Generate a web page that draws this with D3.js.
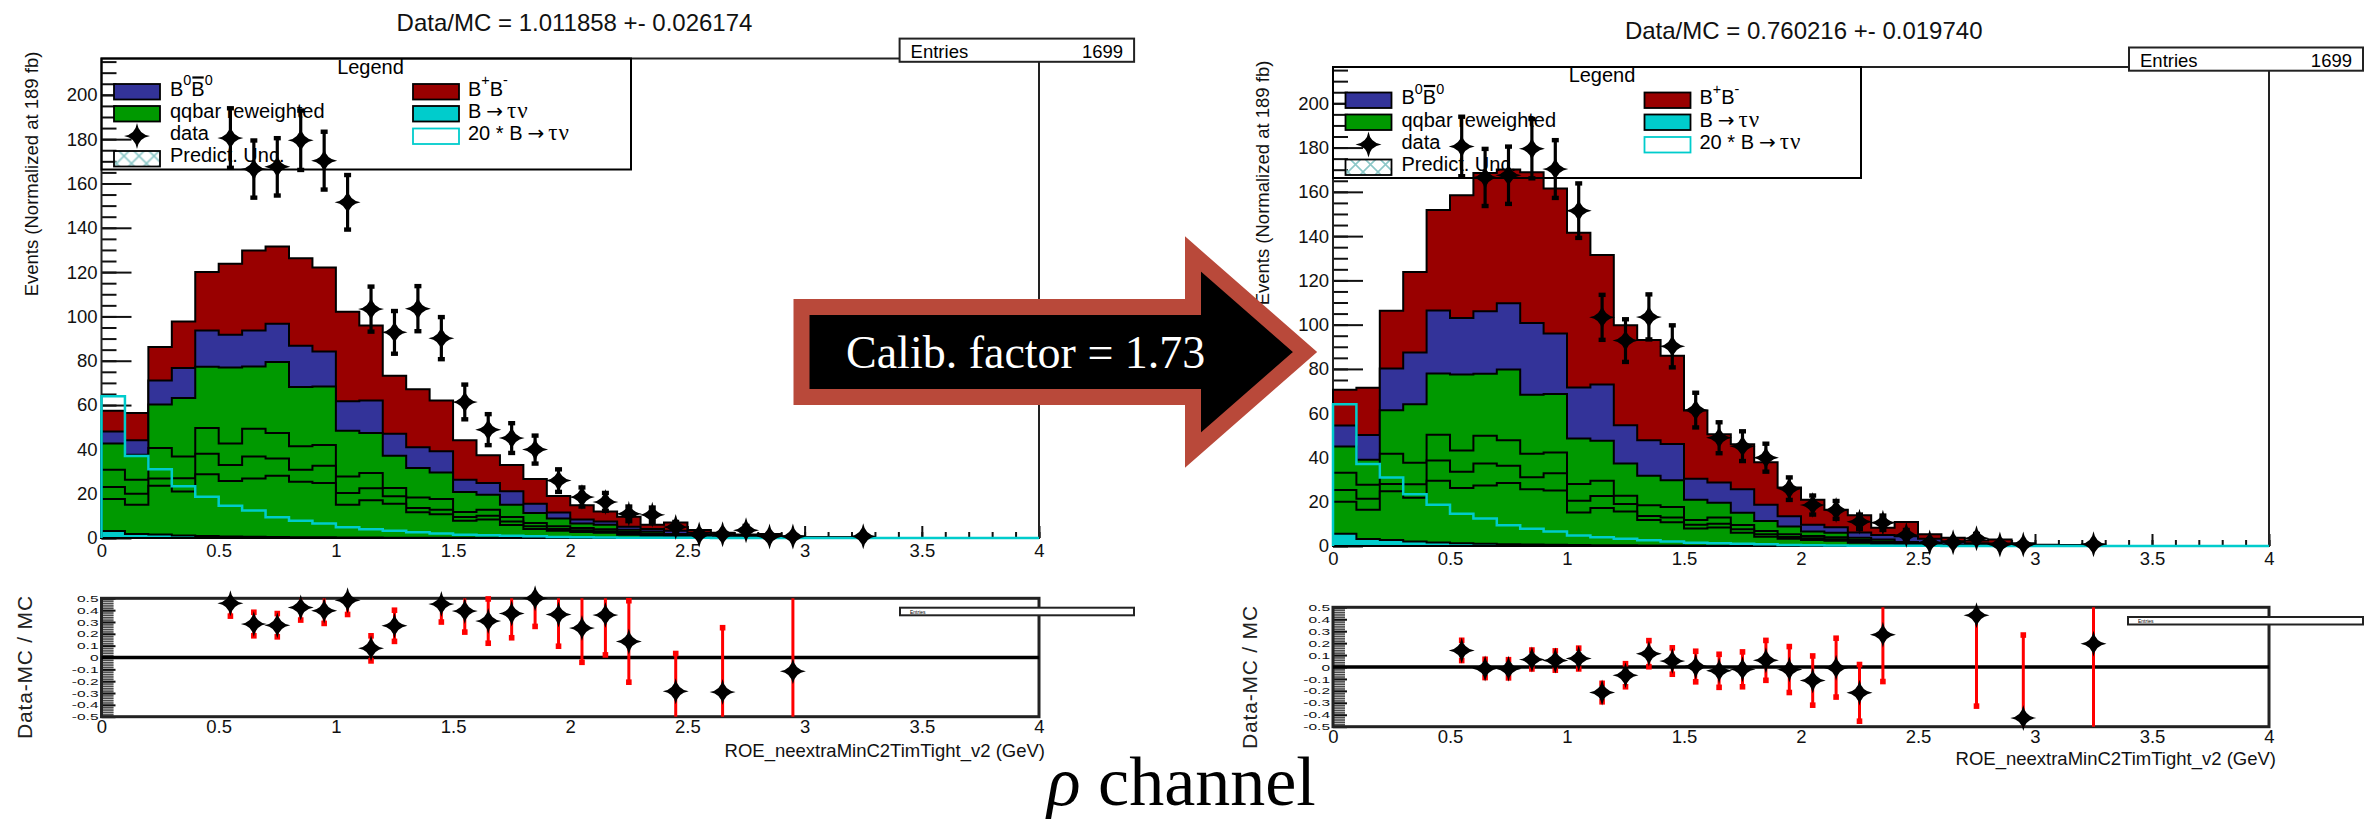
<!DOCTYPE html>
<html>
<head>
<meta charset="utf-8">
<script src="https://cdn.jsdelivr.net/npm/d3@7"></script>
<style>
  html, body { margin: 0; padding: 0; background: #fff; }
  svg { display: block; font-family: "Liberation Sans", Arial, Helvetica, sans-serif; }
</style>
</head>
<body>
<svg id="c" width="2374" height="819"></svg>
<script>
// ---------------- histogram content: 40 bins of 0.1 GeV on [0, 4] ----------------
const binLow = d3.range(40).map(i => +(i * 0.1).toFixed(1));

// B -> tau nu signal (unscaled)
const sigTauNu = [3.2,1.85,1.55,1.17,0.93,0.73,0.62,0.47,0.39,0.33,0.24,0.2,0.165,0.13,0.1,0.075,0.06,0.05,0.038,0.023,0.015,0.01,0.008,0.005,0.004,0.003,0.002,0.002,0.001,0.001,0,0,0,0,0,0,0,0,0,0];
// qqbar (reweighted) components, stacked in this order
const qq1 = [14.4,13.15,22.05,19.83,27.87,24.97,26.28,27.63,25.01,24.47,14.76,16.8,15.335,11.47,10.6,7.725,8.24,5.85,4.062,3.277,2.685,2.39,1.492,0.995,0.596,0.397,0.298,0.198,0.149,0.099,0.05,0.05,0.02,0,0,0,0,0,0,0];
const qq2 = [5.4,5.0,3.3,6.0,9.2,7.3,9.9,7.8,5.4,7.8,5.3,5.4,3.3,1.9,2.1,1.7,1.7,1.6,1.2,0.8,0.8,0.6,0.5,0.5,0.3,0.2,0.1,0.1,0.05,0.02,0.02,0.02,0.01,0,0,0,0,0,0,0];
const qq3 = [7.8,6.3,13.7,9.8,11.6,9.6,12.5,11.5,10.6,9.4,7.5,6.9,3.8,4.8,4.8,2.2,2.8,2.0,1.5,1.2,1.0,1.0,0.7,0.5,0.4,0.3,0.1,0.05,0.05,0.03,0.03,0.03,0,0,0,0,0,0,0,0];
const qq4 = [11.8,11.3,19.6,26.4,27.7,34.4,28.1,32.0,26.7,26.4,20.6,18.1,14.5,13.3,12.0,9.1,6.7,5.5,4.5,3.5,2.0,2.0,1.0,0.9,0.5,0.3,0.1,0.05,0.05,0.05,0,0,0,0,0,0,0,0,0,0];
// B0 B0bar and B+ B- backgrounds (unscaled)
const bNeutral = [5.5,6.5,10.9,13.5,16.4,14.7,16.3,17.3,18.7,15.8,13.3,14.7,10.0,9.3,9.5,5.5,5.3,6.1,4.2,2.7,1.8,1.4,1.4,1.2,1.5,1.2,0.9,0.5,0.5,0.2,0.1,0.1,0.12,0,0,0,0,0,0,0];
const bCharged = [9.3,12.3,15.1,21.0,26.3,32.1,36.1,34.9,39.4,37.9,40.4,33.8,26.1,26.2,23.0,17.8,12.6,11.8,11.1,7.5,6.5,4.6,4.5,1.9,3.7,1.2,0.9,0.7,1.0,0.37,0.15,0.1,0.25,0,0,0,0,0,0,0];
// data (null: empty bin)
const dataCounts = [null,null,null,null,null,180.5,166.5,167.5,179.5,170.3,151.5,103.3,92.8,103.5,90.2,61.4,48.9,45.1,39.9,25.9,18.5,16.3,10.9,10.5,5.0,1.6,1.7,3.55,0.7,0.68,null,null,0.8,null,null,null,null,null,null,null];

// B-meson MC scale per panel (before / after calibration)
const calibFactor = 1.73;
const panelScales = [1, calibFactor];
const dataMcTitles = ["Data/MC = 1.011858 +- 0.026174", "Data/MC = 0.760216 +- 0.019740"];
const entriesValue = "1699";

// tick labels
const yMajorTicks = d3.range(0, 201, 20);
const yMinorTicks = d3.range(0, 216, 5);
const xMajorTicks = [0, 0.5, 1, 1.5, 2, 2.5, 3, 3.5, 4];
const xMinorTicks = d3.range(0, 41).map(i => i / 10);
const ratioTicks = [0.5, 0.4, 0.3, 0.2, 0.1, 0, -0.1, -0.2, -0.3, -0.4, -0.5];
const ratioMinorTicks = d3.range(-25, 26).map(i => i / 50);

const stackKeys = ["sig", "qq1", "qq2", "qq3", "qq4", "b0", "bp"];
const stackColors = { sig: "#00CCCC", qq1: "#009900", qq2: "#009900", qq3: "#009900", qq4: "#009900", b0: "#333399", bp: "#990000" };
const yMax = 216.4;

// ---------------- layout of the two canvases ----------------
const panels = [
  { x0: 101.5, x1: 1039, yBase: 538, yTop: 58.5, rTop: 598.3, rBot: 716.7,
    titleX: 574.5, titleY: 30.5, yTitleX: 31, yTitleY: 174, rTitleX: 24, rTitleY: 667,
    xTitleX: 1045, xTitleY: 757,
    legend: { x: 101.5, y: 58.5, w: 529.5, h: 111 },
    stats: { x: 899.6, y: 38.6, w: 234.5, h: 23.2 },
    rstats: { x: 900, y: 607.7, w: 234, h: 7.6 } },
  { x0: 1333, x1: 2269, yBase: 546, yTop: 67, rTop: 607.3, rBot: 726.7,
    titleX: 1803.7, titleY: 38.6, yTitleX: 1262, yTitleY: 183, rTitleX: 1249, rTitleY: 677,
    xTitleX: 2276, xTitleY: 765,
    legend: { x: 1333, y: 67, w: 528, h: 111 },
    stats: { x: 2129, y: 47.5, w: 234, h: 23.2 },
    rstats: { x: 2128, y: 617, w: 235, h: 7.5 } }
];

const svg = d3.select("#c");
const FONT = "Liberation Sans, Arial, Helvetica, sans-serif";
const SERIF = "Liberation Serif, Times New Roman, serif";
const SYMB = "DejaVu Sans, sans-serif";

const defs = svg.append("defs");
const pat = defs.append("pattern").attr("id", "hatch").attr("width", 15).attr("height", 15)
  .attr("patternUnits", "userSpaceOnUse");
pat.append("path").attr("d", "M0,0L15,15M15,0L0,15").attr("stroke", "#8CC8C8").attr("stroke-width", 1.6);

// four-pointed star marker
const star4 = {
  draw(ctx, size) {
    const r = Math.sqrt(size) / 2, c = r * 0.13;
    ctx.moveTo(0, -r);
    ctx.quadraticCurveTo(c, -c, r, 0);
    ctx.quadraticCurveTo(c, c, 0, r);
    ctx.quadraticCurveTo(-c, c, -r, 0);
    ctx.quadraticCurveTo(-c, -c, 0, -r);
    ctx.closePath();
  }
};
const starPath = d3.symbol().type(star4).size(26 * 26)();

function styleAxis(sel, fontSize) {
  sel.select(".domain").remove();
  sel.attr("font-family", FONT).attr("font-size", fontSize);
  sel.selectAll("line").attr("stroke", "#111").attr("stroke-width", 2);
  sel.selectAll("text").attr("fill", "#111");
}

// text made of pieces (superscripts, overline, serif greek, arrow)
function richText(g, x, y, parts, size) {
  let cx = x;
  parts.forEach(p => {
    const fs = p.sup ? size * 0.72 : (p.fs || size);
    const fam = p.serif ? SERIF : (p.symb ? SYMB : FONT);
    const t = g.append("text").attr("x", cx).attr("y", y - (p.sup ? size * 0.52 : 0))
      .attr("font-size", fs).attr("font-family", fam).attr("fill", "#000").text(p.t);
    if (p.ls) t.attr("letter-spacing", p.ls);
    const w = t.node().getComputedTextLength() + (p.ls ? p.ls * p.t.length : 0);
    if (p.bar) {
      g.append("line").attr("x1", cx + 1).attr("x2", cx + w - 1)
        .attr("y1", y - size * 0.9).attr("y2", y - size * 0.9)
        .attr("stroke", "#000").attr("stroke-width", 2.2);
    }
    cx += w + (p.gap || 0);
  });
}

function drawPanel(p, k) {
  const s = panelScales[k];
  const g = svg.append("g");
  const x = d3.scaleLinear().domain([0, 4]).range([p.x0, p.x1]);
  const y = d3.scaleLinear().domain([0, yMax]).range([p.yBase, p.yTop]);

  // ---- axes (drawn first, the stack covers them) ----
  g.append("g").attr("transform", `translate(${p.x0},0)`)
    .call(d3.axisLeft(y).tickValues(yMinorTicks).tickSizeInner(-15).tickSizeOuter(0).tickFormat(""))
    .call(a => styleAxis(a, 18));
  g.append("g").attr("transform", `translate(${p.x0},0)`)
    .call(d3.axisLeft(y).tickValues(yMajorTicks).tickSizeInner(-30).tickSizeOuter(0).tickPadding(4))
    .call(a => styleAxis(a, 18.5));
  g.append("g").attr("transform", `translate(0,${p.yBase})`)
    .call(d3.axisBottom(x).tickValues(xMinorTicks).tickSizeInner(-6).tickSizeOuter(0).tickFormat(""))
    .call(a => styleAxis(a, 18));
  g.append("g").attr("transform", `translate(0,${p.yBase})`)
    .call(d3.axisBottom(x).tickValues(xMajorTicks).tickSizeInner(-12).tickSizeOuter(0).tickPadding(6).tickFormat(d3.format("")))
    .call(a => styleAxis(a, 18.5));

  // frame
  g.append("path")
    .attr("d", `M${p.x0},${p.yBase}V${p.yTop}H${p.x1}V${p.yBase}H${p.x0}`)
    .attr("fill", "none").attr("stroke", "#222").attr("stroke-width", 2);

  // ---- stacked MC ----
  const rows = binLow.map((b, i) => ({
    sig: sigTauNu[i] * s, qq1: qq1[i], qq2: qq2[i], qq3: qq3[i], qq4: qq4[i],
    b0: bNeutral[i] * s, bp: bCharged[i] * s
  }));
  const series = d3.stack().keys(stackKeys)(rows);
  const area = d3.area().curve(d3.curveStepAfter)
    .x(d => x(d.x)).y0(y(0)).y1(d => y(d.v));
  series.slice().reverse().forEach(ser => {
    const pts = ser.map((d, i) => ({ x: binLow[i], v: d[1] }));
    pts.push({ x: 4, v: ser[ser.length - 1][1] });
    g.append("path").attr("d", area(pts))
      .attr("fill", stackColors[ser.key]).attr("stroke", "#000")
      .attr("stroke-width", 2).attr("stroke-linejoin", "miter");
  });
  const mcTotal = series[series.length - 1].map(d => d[1]);

  // 20 x signal outline
  const sigPts = [{ x: 0, v: 0 }].concat(binLow.map((b, i) => ({ x: b, v: 20 * sigTauNu[i] })));
  sigPts.push({ x: 4, v: 20 * sigTauNu[sigTauNu.length - 1] }, { x: 4, v: 0 });
  g.append("path")
    .attr("d", d3.line().curve(d3.curveStepAfter).x(d => x(d.x)).y(d => y(d.v))(sigPts))
    .attr("fill", "none").attr("stroke", "#00CCCC").attr("stroke-width", 2.5);

  // ---- legend (transparent box) ----
  const L = p.legend;
  const lg = g.append("g").attr("transform", `translate(${L.x},${L.y})`);
  lg.append("rect").attr("width", L.w).attr("height", L.h)
    .attr("fill", "none").attr("stroke", "#000").attr("stroke-width", 2);
  lg.append("text").attr("x", 269).attr("y", 15).attr("text-anchor", "middle")
    .attr("font-size", 20).attr("font-family", FONT).text("Legend");
  const sw = (sx, sy, fill, stroke) => lg.append("rect").attr("x", sx).attr("y", sy)
    .attr("width", 46).attr("height", 15.5).attr("fill", fill).attr("stroke", stroke).attr("stroke-width", 1.8);
  sw(12.5, 25.5, "#333399", "#000");
  sw(12.5, 47.5, "#009900", "#000");
  sw(12.5, 92.5, "url(#hatch)", "#000");
  sw(311.5, 25.5, "#990000", "#000");
  sw(311.5, 47.5, "#00CCCC", "#000");
  sw(311.5, 70, "#fff", "#00CCCC");
  lg.append("path").attr("d", starPath).attr("transform", "translate(35.5,77.5)").attr("fill", "#000");
  richText(lg, 68.5, 37, [{ t: "B" }, { t: "0", sup: true }, { t: "B", bar: true }, { t: "0", sup: true }], 20);
  richText(lg, 68.5, 59.5, [{ t: "qqbar reweighted" }], 20);
  richText(lg, 68.5, 81.5, [{ t: "data" }], 20);
  richText(lg, 68.5, 103.5, [{ t: "Predict. Unc." }], 20);
  richText(lg, 366.5, 37, [{ t: "B" }, { t: "+", sup: true }, { t: "B" }, { t: "-", sup: true }], 20);
  richText(lg, 366.5, 59.5, [{ t: "B", gap: 5 }, { t: "\u2192", symb: true, fs: 20, gap: 4 }, { t: "\u03c4\u03bd", serif: true, fs: 23, ls: 1 }], 20);
  richText(lg, 366.5, 81.5, [{ t: "20 * B", gap: 5 }, { t: "\u2192", symb: true, fs: 20, gap: 4 }, { t: "\u03c4\u03bd", serif: true, fs: 23, ls: 1 }], 20);

  // ---- data with Poisson errors ----
  const dg = g.append("g");
  binLow.forEach((b, i) => {
    const d = dataCounts[i];
    if (d === null) return;
    const e = Math.sqrt(d), cx = x(b + 0.05);
    dg.append("line").attr("x1", cx).attr("x2", cx).attr("y1", y(d - e)).attr("y2", y(d + e))
      .attr("stroke", "#000").attr("stroke-width", 3.2);
    [d - e, d + e].forEach(v => dg.append("rect").attr("x", cx - 3.5).attr("y", y(v) - 2.2)
      .attr("width", 7).attr("height", 4.4).attr("fill", "#000"));
    dg.append("path").attr("d", starPath).attr("transform", `translate(${cx},${y(d)})`).attr("fill", "#000");
  });

  // ---- stats box ----
  const S = p.stats;
  const sg = g.append("g").attr("transform", `translate(${S.x},${S.y})`);
  sg.append("rect").attr("width", S.w).attr("height", S.h).attr("fill", "#fff").attr("stroke", "#222").attr("stroke-width", 2);
  sg.append("text").attr("x", 11).attr("y", 19).attr("font-size", 18.5).attr("font-family", FONT).text("Entries");
  sg.append("text").attr("x", S.w - 11).attr("y", 19).attr("text-anchor", "end").attr("font-size", 18.5).attr("font-family", FONT).text(entriesValue);

  // titles
  g.append("text").attr("x", p.titleX).attr("y", p.titleY).attr("text-anchor", "middle")
    .attr("font-size", 24).attr("font-family", FONT).attr("fill", "#111").text(dataMcTitles[k]);
  g.append("text").attr("transform", `translate(${p.yTitleX},${p.yTitleY}) rotate(-90)`)
    .attr("text-anchor", "middle").attr("dominant-baseline", "central")
    .attr("font-size", 18.5).attr("font-family", FONT).attr("fill", "#111").text("Events (Normalized at 189 fb)");

  // ---------------- ratio pad ----------------
  const ry = d3.scaleLinear().domain([-0.5, 0.5]).range([p.rBot, p.rTop]);
  const rg = svg.append("g");
  rg.append("g").attr("transform", `translate(${p.x0},0)`)
    .call(d3.axisLeft(ry).tickValues(ratioMinorTicks).tickSizeInner(-12).tickSizeOuter(0).tickFormat(""))
    .call(a => { styleAxis(a, 14); a.selectAll("line").attr("stroke", "#333").attr("stroke-width", 1.5); });
  rg.append("rect").attr("x", p.x0).attr("y", p.rTop).attr("width", 12).attr("height", p.rBot - p.rTop)
    .attr("fill", "#777").attr("opacity", 0.35);
  rg.append("g").attr("transform", `translate(${p.x0},0)`)
    .call(d3.axisLeft(ry).tickValues(ratioTicks).tickSizeInner(-14).tickSizeOuter(0).tickPadding(3)
      .tickFormat(v => v === 0 ? "0" : String(+v.toFixed(1))))
    .call(a => { styleAxis(a, 15.5); a.selectAll("text").attr("transform", "scale(1,0.62)"); });
  rg.append("g").attr("transform", `translate(0,${p.rBot})`)
    .call(d3.axisBottom(x).tickValues(xMajorTicks).tickSize(0).tickPadding(3).tickFormat(d3.format("")))
    .call(a => styleAxis(a, 18.5));
  rg.append("rect").attr("x", p.x0).attr("y", p.rTop).attr("width", p.x1 - p.x0).attr("height", p.rBot - p.rTop)
    .attr("fill", "none").attr("stroke", "#222").attr("stroke-width", 3);
  rg.append("line").attr("x1", p.x0).attr("x2", p.x1).attr("y1", ry(0)).attr("y2", ry(0))
    .attr("stroke", "#000").attr("stroke-width", 3.5);

  binLow.forEach((b, i) => {
    const d = dataCounts[i], mc = mcTotal[i];
    if (d === null || !(mc > 0)) return;
    const r = d / mc - 1, e = Math.sqrt(d) / mc;
    if (Math.abs(r) > 0.505) return;
    const cx = x(b + 0.05);
    const lo = Math.max(r - e, -0.5), hi = Math.min(r + e, 0.5);
    rg.append("line").attr("x1", cx).attr("x2", cx).attr("y1", ry(lo)).attr("y2", ry(hi))
      .attr("stroke", "#FF0000").attr("stroke-width", 3);
    [r - e, r + e].forEach(v => {
      if (v >= -0.5 && v <= 0.5) rg.append("rect").attr("x", cx - 2.8).attr("y", ry(v) - 2.8)
        .attr("width", 5.6).attr("height", 5.6).attr("fill", "#FF0000");
    });
    rg.append("path").attr("d", starPath).attr("transform", `translate(${cx},${ry(r)})`).attr("fill", "#000");
  });

  const R = p.rstats;
  rg.append("rect").attr("x", R.x).attr("y", R.y).attr("width", R.w).attr("height", R.h)
    .attr("fill", "#fff").attr("stroke", "#222").attr("stroke-width", 2);
  rg.append("text").attr("x", R.x + 10).attr("y", R.y + 5.8).attr("font-size", 5).attr("font-family", FONT).text("Entries");

  rg.append("text").attr("transform", `translate(${p.rTitleX},${p.rTitleY}) rotate(-90)`)
    .attr("text-anchor", "middle").attr("dominant-baseline", "central")
    .attr("font-size", 21).attr("letter-spacing", 0.8).attr("font-family", FONT).attr("fill", "#222").text("Data-MC / MC");
  rg.append("text").attr("x", p.xTitleX).attr("y", p.xTitleY).attr("text-anchor", "end")
    .attr("font-size", 18.5).attr("font-family", FONT).attr("fill", "#111").text("ROE_neextraMinC2TimTight_v2 (GeV)");
}

panels.forEach(drawPanel);

// ---------------- calibration arrow and caption ----------------
const arrowShape = [[801.5, 307], [1193, 307], [1193, 254], [1305, 352], [1193, 450], [1193, 397], [801.5, 397]];
svg.append("path").attr("d", d3.line()(arrowShape) + "Z")
  .attr("fill", "#000").attr("stroke", "#B9493A").attr("stroke-width", 16)
  .attr("stroke-linejoin", "miter").attr("stroke-miterlimit", 10);
svg.append("text").attr("x", 846).attr("y", 368).attr("font-family", SERIF).attr("font-size", 46)
  .attr("fill", "#fff").text("Calib. factor = 1.73");

const cap = svg.append("text").attr("x", 1047).attr("y", 805).attr("font-family", SERIF).attr("font-size", 70).attr("fill", "#000");
cap.append("tspan").attr("font-style", "italic").text("\u03c1");
cap.append("tspan").text(" channel");
</script>
</body>
</html>
